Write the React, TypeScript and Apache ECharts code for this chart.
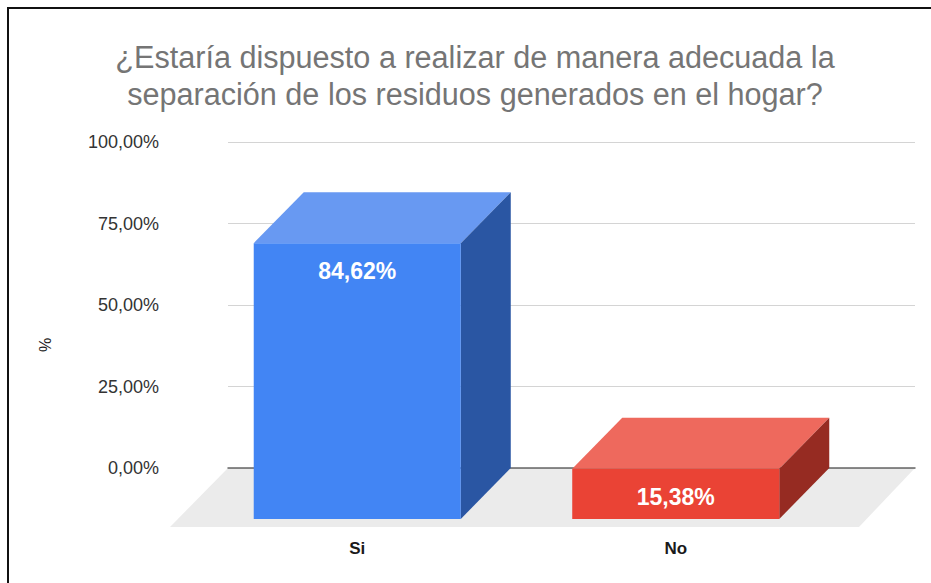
import React, { useEffect, useRef } from "react";
import * as echarts from "echarts";

const titleLines = [
  "¿Estaría dispuesto a realizar de manera adecuada la",
  "separación de los residuos generados en el hogar?",
];
const categories = ["Si", "No"];
const percentages = [84.62, 15.38];
const axisName = "%";

const frontColors = ["#4285f4", "#ea4335"];
const topColors = ["#6899f2", "#ee695d"];
const sideColors = ["#2a56a3", "#962b22"];

const FONT = "'Liberation Sans', Arial, sans-serif";
const DEPTH_X = 50;
const DEPTH_Y = 51;
const comma = (v: number) => v.toFixed(2).replace(".", ",") + "%";

export default function App() {
  const ref = useRef<HTMLDivElement>(null);
  useEffect(() => {
    document.body.style.margin = "0";
    const chart = echarts.init(ref.current!, undefined, { renderer: "svg" });
    chart.setOption({
      animation: false,
      backgroundColor: "#ffffff",
      title: {
        text: titleLines.join("\n"),
        left: 470,
        top: 33,
        textAlign: "center",
        textStyle: {
          color: "#757575",
          fontFamily: FONT,
          fontSize: 30.6,
          fontWeight: "normal",
          lineHeight: 37,
        },
      },
      graphic: [
        {
          type: "polyline",
          silent: true,
          shape: { points: [[8, 583], [8, 8], [931, 8]] },
          style: { stroke: "#111111", lineWidth: 2, fill: "none" },
        },
      ],
      grid: [
        { left: 228, width: 687, top: 142, height: 326 },
        { left: 198, width: 637, top: 193, height: 326 },
      ],
      xAxis: [
        {
          type: "category",
          gridIndex: 0,
          data: categories,
          axisLabel: { show: false },
          axisTick: { show: false },
          axisLine: { show: true, lineStyle: { color: "#666666", width: 1.5 } },
        },
        {
          type: "category",
          gridIndex: 1,
          data: categories,
          axisTick: { show: false },
          axisLine: { show: false },
          axisLabel: {
            margin: 21,
            color: "#1a1a1a",
            fontFamily: FONT,
            fontSize: 17,
            fontWeight: "bold",
          },
        },
      ],
      yAxis: [
        {
          type: "value",
          gridIndex: 0,
          min: 0,
          max: 100,
          interval: 25,
          name: axisName,
          nameLocation: "middle",
          nameGap: 175,
          nameRotate: 90,
          nameTextStyle: {
            color: "#222222",
            fontFamily: FONT,
            fontSize: 16,
            padding: [0, 80, 0, 0],
          },
          axisLine: { show: false },
          axisTick: { show: false },
          splitLine: { lineStyle: { color: "#d4d4d4", width: 1 } },
          axisLabel: {
            margin: 69,
            color: "#333333",
            fontFamily: FONT,
            fontSize: 18,
            formatter: (v: number) => comma(v),
          },
        },
        { type: "value", gridIndex: 1, min: 0, max: 100, interval: 25, show: false },
      ],
      series: [
        {
          type: "custom",
          xAxisIndex: 0,
          yAxisIndex: 0,
          z: -1,
          silent: true,
          data: [[0, 0]],
          encode: { x: 0, y: 1 },
          renderItem: (params: any, api: any) => {
            const c = params.coordSys;
            const base = api.coord([0, 0])[1];
            return {
              type: "polygon",
              shape: {
                points: [
                  [c.x, base],
                  [c.x + c.width, base],
                  [c.x + c.width - 56, base + 59],
                  [c.x - 58, base + 59],
                ],
              },
              style: { fill: "#ebebeb" },
            };
          },
        },
        {
          type: "custom",
          xAxisIndex: 1,
          yAxisIndex: 1,
          z: 5,
          silent: true,
          data: percentages.map((v, i) => [i, v]),
          encode: { x: 0, y: 1 },
          renderItem: (params: any, api: any) => {
            const i = api.value(0);
            const v = api.value(1);
            const [cx, top] = api.coord([i, v]);
            const bottom = api.coord([i, 0])[1];
            const w = api.size([1, 0])[0] * 0.65;
            const l = cx - w / 2;
            const r = cx + w / 2;
            return {
              type: "group",
              children: [
                {
                  type: "polygon",
                  shape: {
                    points: [
                      [l, top],
                      [r, top],
                      [r + DEPTH_X, top - DEPTH_Y],
                      [l + DEPTH_X, top - DEPTH_Y],
                    ],
                  },
                  style: { fill: topColors[i] },
                },
                {
                  type: "polygon",
                  shape: {
                    points: [
                      [r, top],
                      [r + DEPTH_X, top - DEPTH_Y],
                      [r + DEPTH_X, bottom - DEPTH_Y],
                      [r, bottom],
                    ],
                  },
                  style: { fill: sideColors[i] },
                },
                {
                  type: "rect",
                  shape: { x: l, y: top, width: w, height: bottom - top },
                  style: { fill: frontColors[i] },
                },
                {
                  type: "text",
                  x: cx,
                  y: top + 28,
                  style: {
                    text: comma(v),
                    fill: "#ffffff",
                    font: `bold 23px ${FONT}`,
                    textAlign: "center",
                    textVerticalAlign: "middle",
                  },
                },
              ],
            };
          },
        },
      ],
    });
    return () => chart.dispose();
  }, []);
  return <div ref={ref} style={{ width: 931, height: 583 }} />;
}
